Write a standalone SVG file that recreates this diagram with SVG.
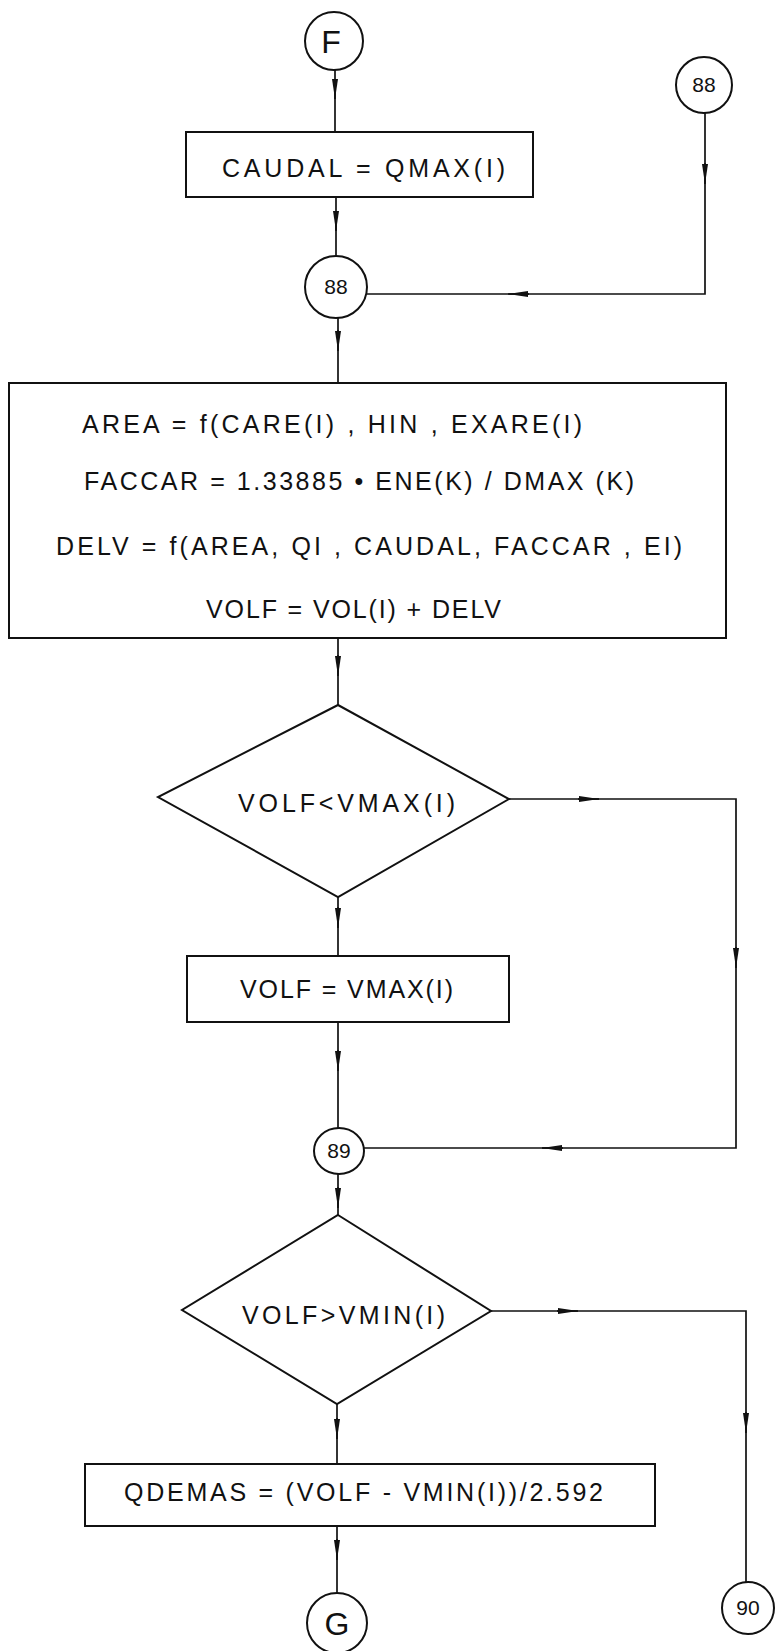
<svg xmlns="http://www.w3.org/2000/svg" width="776" height="1651" viewBox="0 0 776 1651">
<defs>
<marker id="ah" viewBox="0 0 20 8" refX="20" refY="4" markerWidth="20" markerHeight="8" markerUnits="userSpaceOnUse" orient="auto">
<path d="M0 1 L20 4 L0 7 Z" fill="#111"/>
</marker>
</defs>
<style>
.n{fill:#fff;stroke:#111;stroke-width:2}
.c{fill:none;stroke:#111;stroke-width:1.7}
.a{fill:none;stroke:#111;stroke-width:1.7;marker-end:url(#ah)}
text{font-family:"Liberation Sans","DejaVu Sans",Arial,sans-serif;fill:#111;font-size:25px}
.s{font-size:21px;text-anchor:middle}
.l{font-size:32px;text-anchor:middle}
</style>
<rect width="776" height="1651" fill="#fff"/>
<g id="connectors">
<path class="c" d="M335 70 V132"/>
<path class="a" d="M335 79 V99"/>
<path class="c" d="M336 197 V256"/>
<path class="a" d="M336 211 V231"/>
<path class="c" d="M705 113 V294 H367"/>
<path class="a" d="M705 163 V184"/>
<path class="a" d="M529 294 H508"/>
<path class="c" d="M338 318 V383"/>
<path class="a" d="M338 330 V351"/>
<path class="c" d="M338 638 V705"/>
<path class="a" d="M338 655 V676"/>
<path class="c" d="M509 799 H736 V1148 H364"/>
<path class="a" d="M578 799 H599"/>
<path class="a" d="M736 947 V968"/>
<path class="a" d="M563 1148 H542"/>
<path class="c" d="M338 897 V956"/>
<path class="a" d="M338 907 V928"/>
<path class="c" d="M338 1022 V1128"/>
<path class="a" d="M338 1050 V1071"/>
<path class="c" d="M338 1174 V1215"/>
<path class="a" d="M338 1187 V1208"/>
<path class="c" d="M491 1311 H746 V1582"/>
<path class="a" d="M557 1311 H578"/>
<path class="a" d="M746 1412 V1433"/>
<path class="c" d="M337 1404 V1464"/>
<path class="a" d="M337 1418 V1439"/>
<path class="c" d="M337 1526 V1593"/>
<path class="a" d="M337 1539 V1560"/>
</g>
<g id="nF"><circle class="n" cx="334" cy="41" r="29"/><text class="l" x="331" y="53">F</text></g>
<g id="nCaudal"><rect class="n" x="186" y="132" width="347" height="65"/><text x="222" y="177" textLength="283" lengthAdjust="spacing">CAUDAL = QMAX(I)</text></g>
<g id="n88a"><circle class="n" cx="336" cy="287" r="31"/><text class="s" x="336" y="294">88</text></g>
<g id="n88b"><circle class="n" cx="704" cy="85" r="28"/><text class="s" x="704" y="92">88</text></g>
<g id="nCalc"><rect class="n" x="9" y="383" width="717" height="255"/>
<text x="82" y="433" textLength="500" lengthAdjust="spacing">AREA = f(CARE(I) , HIN , EXARE(I)</text>
<text x="84" y="490" textLength="550" lengthAdjust="spacing">FACCAR = 1.33885 • ENE(K) / DMAX (K)</text>
<text x="56" y="555" textLength="626" lengthAdjust="spacing">DELV = f(AREA, QI , CAUDAL, FACCAR , EI)</text>
<text x="206" y="618" textLength="295" lengthAdjust="spacing">VOLF = VOL(I) + DELV</text></g>
<g id="nD1"><polygon class="n" points="338,705 509,799 338,897 158,797"/><text x="238" y="812" textLength="217" lengthAdjust="spacing">VOLF&lt;VMAX(I)</text></g>
<g id="nVmax"><rect class="n" x="187" y="956" width="322" height="66"/><text x="240" y="998" textLength="213" lengthAdjust="spacing">VOLF = VMAX(I)</text></g>
<g id="n89"><ellipse class="n" cx="339" cy="1151" rx="25" ry="23"/><text class="s" x="339" y="1158">89</text></g>
<g id="nD2"><polygon class="n" points="338,1215 491,1311 337,1404 182,1310"/><text x="242" y="1324" textLength="203" lengthAdjust="spacing">VOLF&gt;VMIN(I)</text></g>
<g id="nQdemas"><rect class="n" x="85" y="1464" width="570" height="62"/><text x="124" y="1501" textLength="479" lengthAdjust="spacing">QDEMAS = (VOLF - VMIN(I))/2.592</text></g>
<g id="nG"><circle class="n" cx="337" cy="1623" r="30"/><text class="l" x="337" y="1635">G</text></g>
<g id="n90"><circle class="n" cx="748" cy="1608" r="26"/><text class="s" x="748" y="1615">90</text></g>
</svg>
